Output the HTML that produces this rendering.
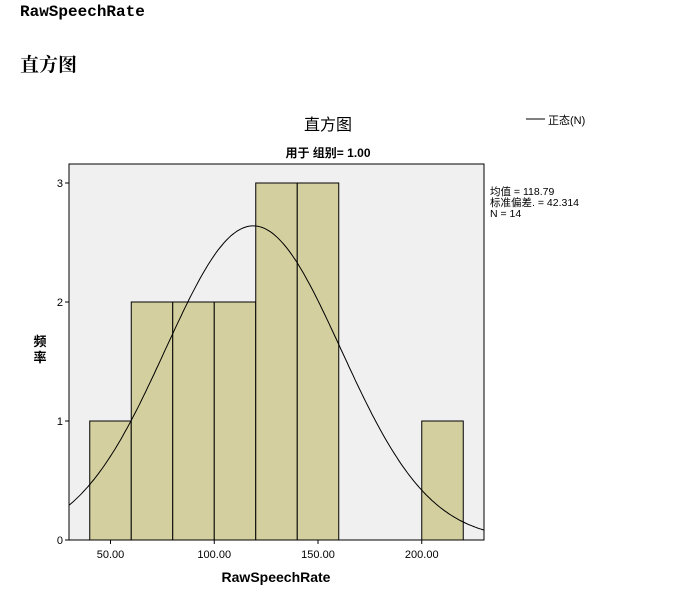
<!DOCTYPE html>
<html><head><meta charset="utf-8"><style>
body{margin:0;width:681px;height:609px;background:#fff;position:relative;overflow:hidden}
.t1{position:absolute;left:20px;top:3px;font:bold 16px "Liberation Mono",monospace}
.t2{position:absolute;left:20px;top:50px;font:bold 19px "Noto Serif CJK SC",serif}
svg{position:absolute;left:0;top:0}
text{font-family:"Liberation Sans","Noto Sans CJK SC",sans-serif}
</style></head><body>
<div class="t1">RawSpeechRate</div>
<div class="t2">直方图</div>
<svg id="c" width="681" height="609"></svg>
<script>
const binStarts=[40,60,80,100,120,140,200];
const binCounts=[1,2,2,2,3,3,1];
const binWidth=20;
const xTicks=[50,100,150,200];
const yTicks=[0,1,2,3];
const mean=118.79, sd=42.314, n=14;
const L=69,R=484,T=164,B=540;
const x=v=>L+(v-30)/200*(R-L);
const y=v=>540-v*119;
const s=document.getElementById('c');
const NS='http://www.w3.org/2000/svg';
function mk(t,a,p){const e=document.createElementNS(NS,t);for(const k in a)e.setAttribute(k,a[k]);(p||s).appendChild(e);return e;}
let e;
e=mk('rect',{x:L,y:T,width:R-L,height:B-T,fill:'#f0f0f0',stroke:'#000','stroke-width':1});


binStarts.forEach((b,i)=>{
 e=mk('rect',{x:x(b),y:y(binCounts[i]),width:x(b+binWidth)-x(b),height:y(0)-y(binCounts[i]),fill:'#d4cf9f',stroke:'#000','stroke-width':1});
 
 
});
let d='';
for(let v=30;v<=230;v+=1){const f=n*binWidth/(sd*Math.sqrt(2*Math.PI))*Math.exp(-0.5*((v-mean)/sd)**2);d+=(v==30?'M':'L')+x(v).toFixed(1)+','+y(f).toFixed(1);}
e=mk('svg',{x:L,y:T,width:R-L,height:B-T,viewBox:`${L} ${T} ${R-L} ${B-T}`});
const c=mk('path',{d:d,fill:'none',stroke:'#000','stroke-width':1},e);


yTicks.forEach(t=>{
 mk('line',{x1:L-4,x2:L,y1:y(t),y2:y(t),stroke:'#000'});
 e=mk('text',{x:L-6,y:y(t)+4,'font-size':11,'text-anchor':'end'});e.textContent=t;
 
 
});
xTicks.forEach(t=>{
 mk('line',{x1:x(t),x2:x(t),y1:B,y2:B+4,stroke:'#000'});
 e=mk('text',{x:x(t),y:B+18,'font-size':11,'text-anchor':'middle'});e.textContent=t.toFixed(2);
 
 
});
function tx(str,a,name){const t=mk('text',a);t.textContent=str;return t;}
tx('直方图',{x:328,y:130,'font-size':16,'text-anchor':'middle'},'chart-title');
tx('用于 组别= 1.00',{x:328,y:157,'font-size':12,'font-weight':'bold','text-anchor':'middle'},'chart-subtitle');
tx('RawSpeechRate',{x:276,y:582,'font-size':14,'font-weight':'bold','text-anchor':'middle'},'x-axis-title');
tx('频',{x:40,y:346,'font-size':13,'font-weight':'bold','text-anchor':'middle'},'y-axis-title');
tx('率',{x:40,y:362,'font-size':13,'font-weight':'bold','text-anchor':'middle'},'y-axis-title-2');
mk('line',{x1:526,x2:545,y1:119,y2:119,stroke:'#000'});
tx('正态(N)',{x:548,y:124,'font-size':11},'legend-entry');
tx('均值 = 118.79',{x:490,y:195,'font-size':10.5},'stat-mean');
tx('标准偏差. = 42.314',{x:490,y:206,'font-size':10.5},'stat-sd');
tx('N = 14',{x:490,y:217,'font-size':10.5},'stat-n');
</script>
</body></html>
